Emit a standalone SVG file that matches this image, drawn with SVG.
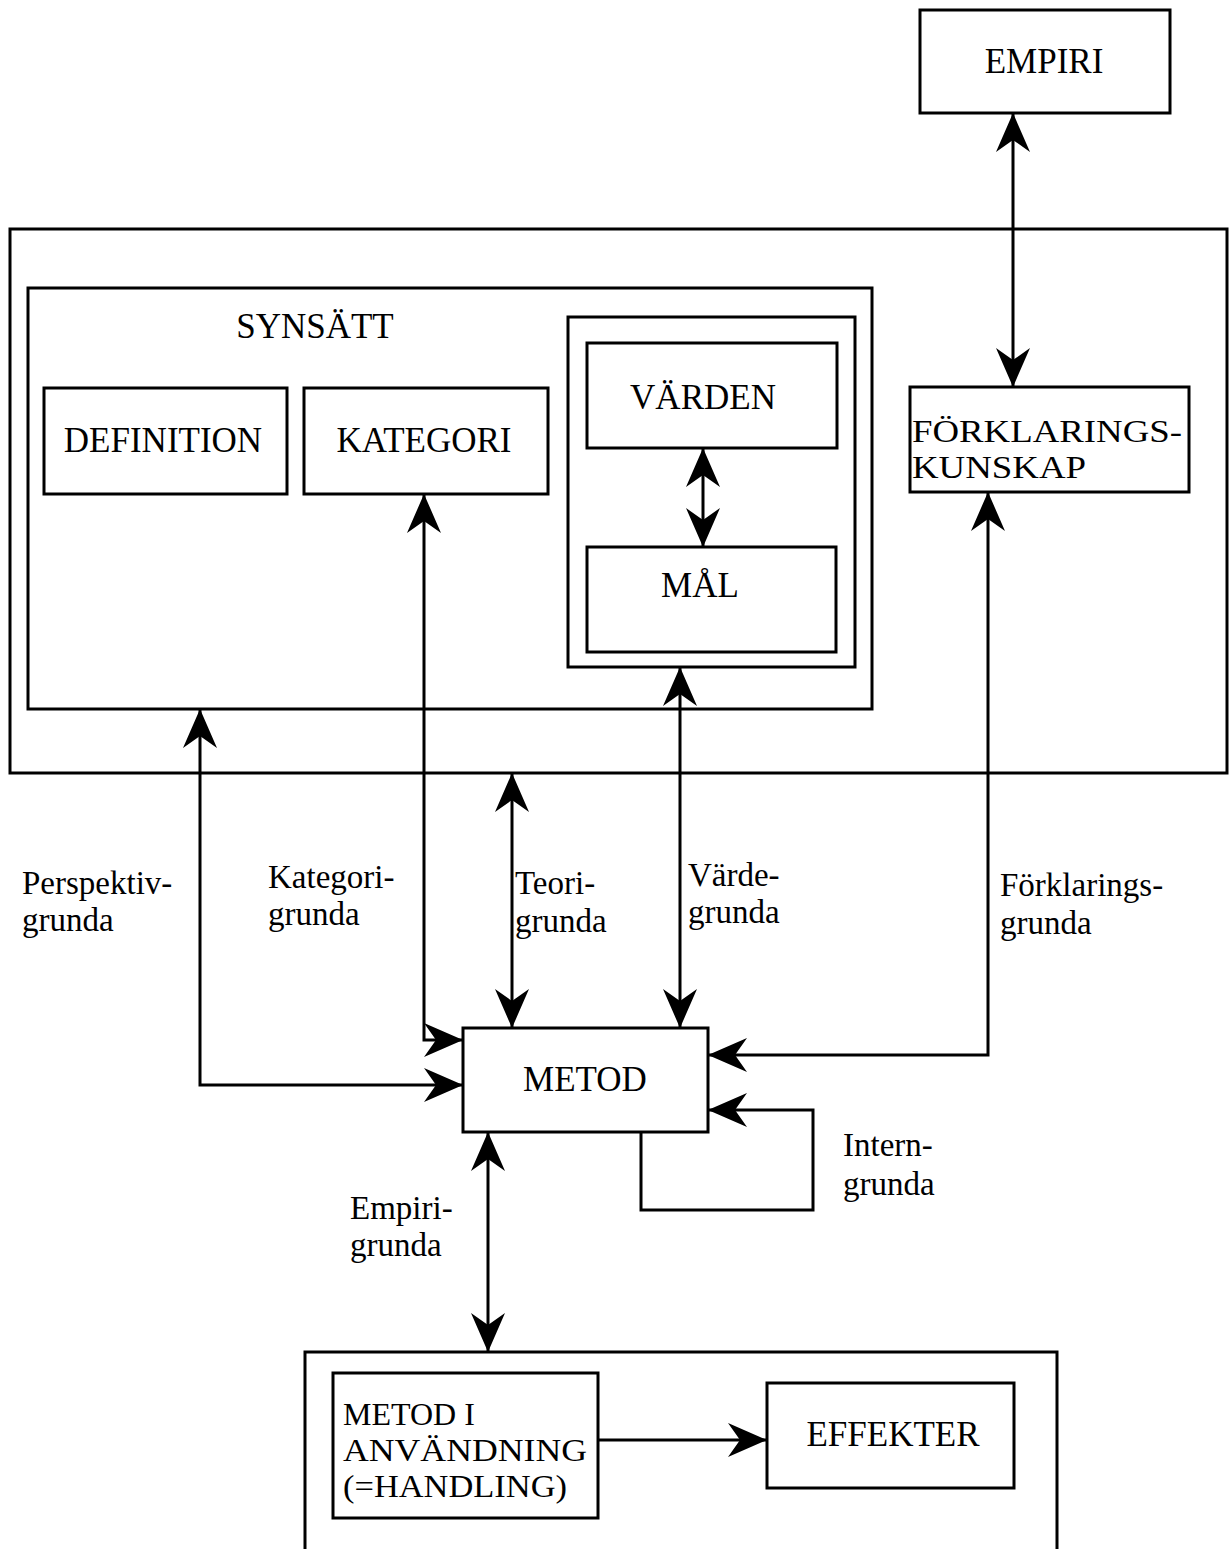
<svg xmlns="http://www.w3.org/2000/svg" width="1232" height="1549" viewBox="0 0 1232 1549">
<style>
.box{fill:none;stroke:#000;stroke-width:3}
.con{fill:none;stroke:#000;stroke-width:3}
text{font-family:"Liberation Serif","Times New Roman",serif;font-size:35px;fill:#000}
.c{text-anchor:middle}
.lb{font-size:33px}
.ml{font-size:32px}
</style>
<defs>
<marker id="ah" viewBox="0 0 40 36" refX="40" refY="18" markerWidth="40" markerHeight="36" markerUnits="userSpaceOnUse" orient="auto-start-reverse">
<path d="M40,18 L1,1 L13,18 L1,35 Z" fill="#000"/>
</marker>
</defs>
<rect width="1232" height="1549" fill="#fff"/>
<g id="empiri"><rect class="box" x="920" y="10" width="250" height="103"/><text class="c" x="1044" y="73">EMPIRI</text></g>
<g id="outer"><rect class="box" x="10" y="229" width="1217" height="544"/></g>
<g id="synsatt"><rect class="box" x="28" y="288" width="844" height="421"/><text class="c" x="315" y="338">SYNSÄTT</text></g>
<g id="definition"><rect class="box" x="44" y="388" width="243" height="106"/><text class="c" x="163" y="452">DEFINITION</text></g>
<g id="kategori"><rect class="box" x="304" y="388" width="244" height="106"/><text class="c" x="424" y="452">KATEGORI</text></g>
<g id="vardegrupp"><rect class="box" x="568" y="317" width="287" height="350"/></g>
<g id="varden"><rect class="box" x="587" y="343" width="250" height="105"/><text class="c" x="703" y="409">VÄRDEN</text></g>
<g id="mal"><rect class="box" x="587" y="547" width="249" height="105"/><text class="c" x="700" y="597">MÅL</text></g>
<g id="forklaringskunskap"><rect class="box" x="910" y="387" width="279" height="105"/><text class="ml" x="912" y="442" textLength="270" lengthAdjust="spacingAndGlyphs">FÖRKLARINGS-</text><text class="ml" x="912" y="478" textLength="174" lengthAdjust="spacingAndGlyphs">KUNSKAP</text></g>
<g id="metod"><rect class="box" x="463" y="1028" width="245" height="104"/><text class="c" x="585" y="1091">METOD</text></g>
<g id="anvandningsram"><path class="box" d="M305,1549 V1352 H1057 V1549"/></g>
<g id="metodianvandning"><rect class="box" x="333" y="1373" width="265" height="145"/><text class="ml" x="343" y="1425">METOD I</text><text class="ml" x="343" y="1461" textLength="244" lengthAdjust="spacingAndGlyphs">ANVÄNDNING</text><text class="ml" x="343" y="1497" textLength="224" lengthAdjust="spacingAndGlyphs">(=HANDLING)</text></g>
<g id="effekter"><rect class="box" x="767" y="1383" width="247" height="105"/><text class="c" x="893" y="1446">EFFEKTER</text></g>
<g id="connectors">
<path class="con" d="M1013,113 V387" marker-start="url(#ah)" marker-end="url(#ah)"/>
<path class="con" d="M703,448 V547" marker-start="url(#ah)" marker-end="url(#ah)"/>
<path class="con" d="M200,709 V1085 H463" marker-start="url(#ah)" marker-end="url(#ah)"/>
<path class="con" d="M424,494 V1040 H463" marker-start="url(#ah)" marker-end="url(#ah)"/>
<path class="con" d="M512,773 V1028" marker-start="url(#ah)" marker-end="url(#ah)"/>
<path class="con" d="M680,667 V1028" marker-start="url(#ah)" marker-end="url(#ah)"/>
<path class="con" d="M988,492 V1055 H708" marker-start="url(#ah)" marker-end="url(#ah)"/>
<path class="con" d="M641,1132 V1210 H813 V1110 H708" marker-end="url(#ah)"/>
<path class="con" d="M488,1132 V1352" marker-start="url(#ah)" marker-end="url(#ah)"/>
<path class="con" d="M598,1440 H767" marker-end="url(#ah)"/>
</g>
<g id="labels" class="lb">
<text class="lb" x="22" y="894">Perspektiv-</text><text class="lb" x="22" y="931">grunda</text>
<text class="lb" x="268" y="888">Kategori-</text><text class="lb" x="268" y="925">grunda</text>
<text class="lb" x="515" y="894">Teori-</text><text class="lb" x="515" y="932">grunda</text>
<text class="lb" x="688" y="886">Värde-</text><text class="lb" x="688" y="923">grunda</text>
<text class="lb" x="1000" y="896">Förklarings-</text><text class="lb" x="1000" y="934">grunda</text>
<text class="lb" x="843" y="1156">Intern-</text><text class="lb" x="843" y="1195">grunda</text>
<text class="lb" x="350" y="1219">Empiri-</text><text class="lb" x="350" y="1256">grunda</text>
</g>
</svg>
